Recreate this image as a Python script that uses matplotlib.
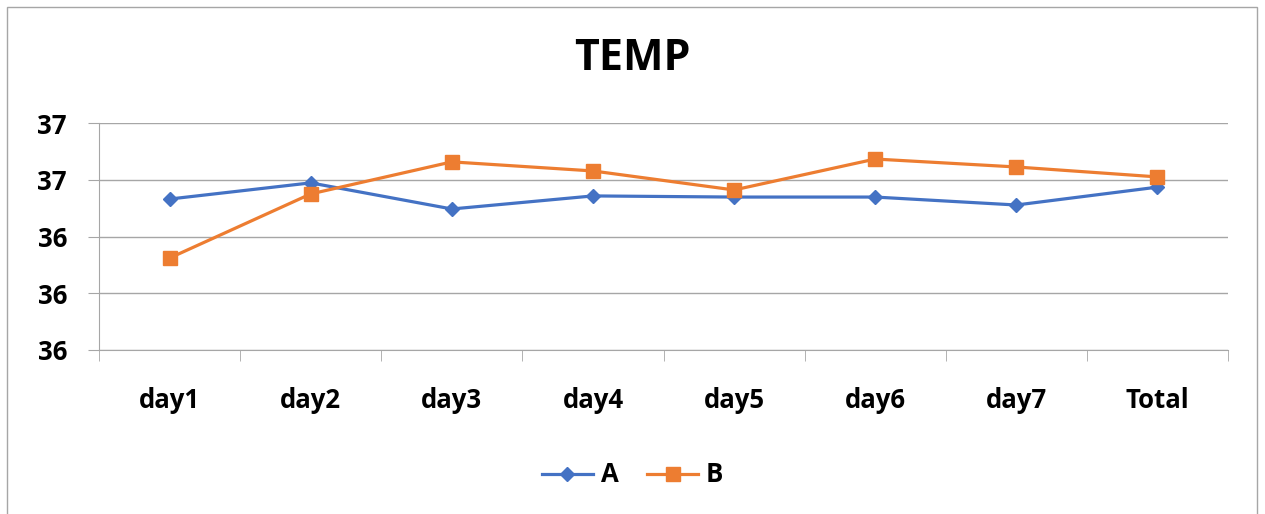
import matplotlib.pyplot as plt
from matplotlib.patches import Rectangle
from matplotlib.ticker import FixedLocator, FuncFormatter
import numpy as np

plt.rcParams['font.family'] = ['Open Sans', 'DejaVu Sans']
plt.rcParams['font.weight'] = 'bold'

# data
days = ['day1', 'day2', 'day3', 'day4', 'day5', 'day6', 'day7', 'Total']
temp_a = [36.532, 36.589, 36.497, 36.543, 36.539, 36.539, 36.511, 36.574]
temp_b = [36.324, 36.550, 36.663, 36.631, 36.564, 36.673, 36.645, 36.610]
y_ticks = [36.0, 36.2, 36.4, 36.6, 36.8]

fig = plt.figure(figsize=(12.65, 5.14), dpi=100)
fig.patches.append(Rectangle((7/1265, -0.1), 1250/1265, 1.1 - 7/514, transform=fig.transFigure,
                             fill=False, edgecolor='#A6A6A6', linewidth=1))

ax = fig.add_axes([99/1265, 1 - 350/514, 1129/1265, 227/514])
x = np.arange(len(days))
ax.plot(x, temp_a, color='#4472C4', lw=2.3, marker='D', markersize=7.5, label='A')
ax.plot(x, temp_b, color='#ED7D31', lw=2.3, marker='s', markersize=9.5, label='B')

ax.set_xlim(-0.5, len(days) - 0.5)
ax.set_ylim(36.0, 36.8)
ax.yaxis.set_major_locator(FixedLocator(y_ticks))
ax.yaxis.set_major_formatter(FuncFormatter(lambda v, p: '%.0f' % v))
ax.set_xticks(x)
ax.set_xticklabels(days)
ax.set_xticks(np.arange(len(days) + 1) - 0.5, minor=True)

ax.grid(axis='y', color='#A6A6A6', lw=1)
ax.set_axisbelow(True)
for s in ['top', 'right']:
    ax.spines[s].set_visible(False)
for s in ['left', 'bottom']:
    ax.spines[s].set_color('#A6A6A6')
ax.tick_params(axis='y', length=8, color='#A6A6A6', pad=15, labelsize=18.5)
ax.tick_params(axis='x', which='major', length=0, pad=27, labelsize=18.5)
ax.tick_params(axis='x', which='minor', length=8, color='#A6A6A6')

fig.text(0.5, 1 - 58/514, 'TEMP', ha='center', va='center', fontsize=31, fontweight='bold')
fig.legend(loc='center', bbox_to_anchor=(0.5, 1 - 475/514), ncol=2, frameon=False,
           fontsize=18.5, handlelength=2.0, columnspacing=1.1, handletextpad=0.3)

fig.savefig('out.png', dpi=100)
